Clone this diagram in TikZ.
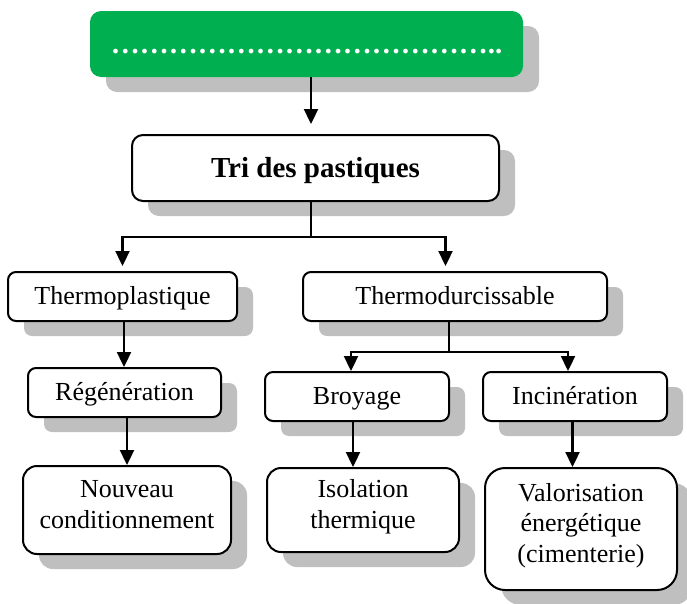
\documentclass[tikz,border=0pt]{standalone}
\usepackage{fontspec}
\setmainfont{Liberation Serif}
\usetikzlibrary{arrows.meta,shadows,calc}
\definecolor{wgreen}{RGB}{0,176,80}
\definecolor{shadowgray}{RGB}{191,191,191}
\newcommand\mlines[1]{\begin{tabular}[b]{@{}c@{}}#1\end{tabular}}
\newcommand\elli{…}
\begin{document}
\begin{tikzpicture}[x=1pt,y=-1pt,
  sh/.style={drop shadow={shadow xshift=16pt,shadow yshift=-15pt,fill=shadowgray,opacity=1}},
  box/.style={draw=black,line width=2pt,fill=white,inner sep=0pt,sh,
    font=\fontsize{26}{30.5}\selectfont},
  small/.style={box,rounded corners=8pt,minimum height=49pt,text height=18pt,text depth=3pt},
  tall/.style={box,rounded corners=14pt,text height=40pt,text depth=4pt},
  conn/.style={line width=2.3pt},
  arr/.style={conn,-{Triangle[length=15pt,width=14pt]}}]
\useasboundingbox (0,0) rectangle (687,603);
% nodes
\node[sh,fill=wgreen,rounded corners=11pt,minimum width=433pt,minimum height=66pt,inner sep=0pt,
  text height=20pt,text depth=2pt,
  text=white,font=\bfseries\fontsize{29}{34}\selectfont] (green) at (306.5,44)
  {\elli\elli\elli\elli\elli\elli\elli\elli\elli\elli\elli\elli\elli..};
\node[box,rounded corners=11pt,minimum width=367pt,minimum height=66pt,
  text height=21pt,text depth=3pt,
  font=\bfseries\fontsize{29}{34}\selectfont] (tri) at (315.5,168) {Tri des pastiques};
\node[small,minimum width=229pt] (thp) at (122.5,296.5) {Thermoplastique};
\node[small,minimum width=304pt] (thd) at (455,296.5) {Thermodurcissable};
\node[small,minimum width=193pt] (reg) at (124.5,392.5) {Régénération};
\node[small,minimum width=184pt] (bro) at (357,396.5) {Broyage};
\node[small,minimum width=184pt] (inc) at (575,396.5) {Incinération};
\node[tall,minimum width=208pt,minimum height=88pt] (nou) at (127,510)
  {\mlines{Nouveau\\conditionnement}};
\node[tall,minimum width=192pt,minimum height=84pt] (iso) at (363,510)
  {\mlines{Isolation\\thermique}};
\node[box,rounded corners=20pt,minimum width=192pt,minimum height=122pt,
  text height=70pt,text depth=4pt] (val) at (581,529)
  {\mlines{Valorisation\\énergétique\\(cimenterie)}};
% connectors
\draw[arr,shorten >=10pt] ([xshift=4.5pt]green.south) -- ([xshift=-4.5pt]tri.north);
\coordinate (j1) at ($(tri.south)+(-4.5,35)$);
\draw[conn] ([xshift=-4.5pt]tri.south) -- (j1);
\draw[arr,shorten >=5pt] (j1) -| (thp.north);
\draw[arr,shorten >=5pt] (j1) -| ([xshift=-9.5pt]thd.north);
\draw[arr] ([xshift=1.5pt]thp.south) -- ([xshift=-0.5pt]reg.north);
\coordinate (j2) at ($(thd.south)+(-6,30)$);
\draw[conn] ([xshift=-6pt]thd.south) -- (j2);
\draw[arr] (j2) -| ([xshift=-6pt]bro.north);
\draw[arr] (j2) -| ([xshift=-7pt]inc.north);
\draw[arr] ([xshift=2.5pt]reg.south) -- (nou.north);
\draw[arr] ([xshift=-4pt]bro.south) -- ([xshift=-10pt]iso.north);
\draw[arr] ([xshift=-2.5pt]inc.south) -- ([xshift=-8.5pt]val.north);
\end{tikzpicture}
\end{document}
